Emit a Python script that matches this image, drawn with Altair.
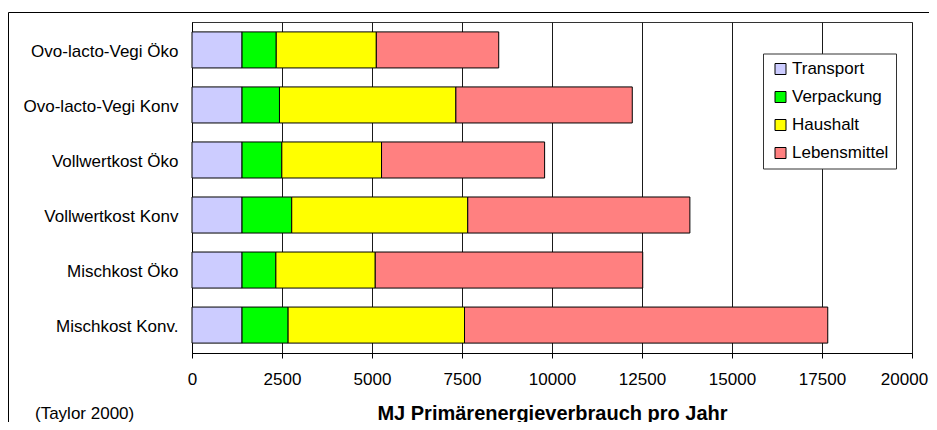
import altair as alt
import pandas as pd

categories = ["Ovo-lacto-Vegi Öko", "Ovo-lacto-Vegi Konv", "Vollwertkost Öko",
              "Vollwertkost Konv", "Mischkost Öko", "Mischkost Konv."]
segments = ["Transport", "Verpackung", "Haushalt", "Lebensmittel"]
colors = ["#CCCCFF", "#00FF00", "#FFFF00", "#FF8080"]

transport = [1390, 1390, 1390, 1390, 1390, 1390]
verpackung = [950, 1040, 1105, 1380, 940, 1280]
haushalt = [2780, 4900, 2770, 4890, 2760, 4900]
lebensmittel = [3400, 4900, 4530, 6170, 7430, 10090]

x_ticks = [0, 2500, 5000, 7500, 10000, 12500, 15000, 17500, 20000]
x_title = "MJ Primärenergieverbrauch pro Jahr"
source_note = ["(Taylor 2000)"]

FONT = "Liberation Sans"

series = [transport, verpackung, haushalt, lebensmittel]
rows = []
for i, cat in enumerate(categories):
    for j, seg in enumerate(segments):
        rows.append({"Kategorie": cat, "Bereich": seg, "Wert": series[j][i], "Reihenfolge": j})
df = pd.DataFrame(rows)

bars = alt.Chart(df).mark_bar(stroke="black", strokeWidth=1, opacity=1).encode(
    y=alt.Y("Kategorie:N", sort=categories,
            scale=alt.Scale(paddingInner=0.345, paddingOuter=0.18),
            axis=alt.Axis(title=None, labelFontSize=17, labelPadding=14, ticks=False,
                          domainColor="black", labelBaseline="middle", labelOffset=2,
                          grid=False, labelLimit=300)),
    x=alt.X("Wert:Q", stack="zero",
            scale=alt.Scale(domain=[0, 20000], nice=False),
            axis=alt.Axis(values=x_ticks, format="d", title=x_title,
                          titleFontSize=20, titleFontWeight="bold",
                          titleX=360, titleY=66, titleBaseline="alphabetic",
                          titleAlign="center", labelFontSize=17, tickSize=5,
                          labelPadding=13, grid=True, gridColor="#1a1a1a",
                          domainColor="black", tickColor="black", labelFlush=False,
                          labelOffset={"condition": {"test": "datum.value == 20000", "value": -8},
                                       "value": 0})),
    color=alt.Color("Bereich:N", scale=alt.Scale(domain=segments, range=colors),
                    legend=alt.Legend(title=None, orient="none", legendX=571, legendY=31.5,
                                      fillColor="white", strokeColor="#333333",
                                      padding=7, symbolType="square", symbolSize=121,
                                      symbolStrokeColor="black", symbolStrokeWidth=1,
                                      symbolOffset=2, labelFontSize=17, labelOffset=3,
                                      rowPadding=10, symbolOpacity=1)),
    order=alt.Order("Reihenfolge:Q"),
)

frame = alt.Chart(pd.DataFrame({"a": [0]})).mark_rect(
    fillOpacity=0, stroke="black", strokeWidth=1
).encode(
    x=alt.value(-183.5), x2=alt.value(780), y=alt.value(-9.5), y2=alt.value(460)
)

note = alt.Chart(pd.DataFrame({"t": source_note})).mark_text(
    align="left", baseline="alphabetic", fontSize=17, font=FONT, color="black"
).encode(x=alt.value(-157), y=alt.value(397), text="t:N")

chart = alt.layer(frame, bars, note).properties(
    width=720, height=331,
    autosize=alt.AutoSizeParams(type="none"),
    padding={"left": 184, "top": 14, "right": 17, "bottom": 69},
).configure_view(
    stroke="#333333", strokeWidth=1
).configure_axis(
    labelFont=FONT, titleFont=FONT, labelColor="black", titleColor="black"
).configure_legend(
    labelFont=FONT, labelColor="black"
)

chart.save("out.html", embed_options={"renderer": "svg", "actions": False})
